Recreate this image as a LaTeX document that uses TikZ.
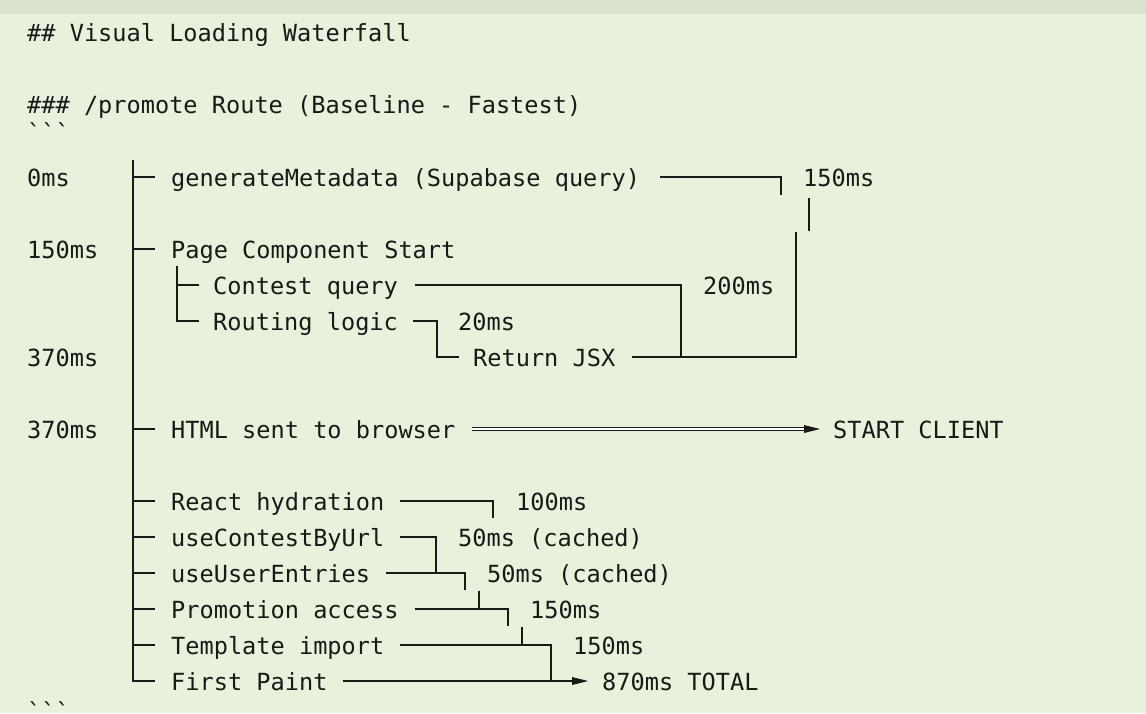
\documentclass[tikz,border=0pt]{standalone}
\usepackage{fontspec}
\setmainfont{DejaVu Sans Mono}[Ligatures=TeXOff]
\begin{document}
\begin{tikzpicture}[x=1pt,y=-1pt,
 t/.style={anchor=base west,inner sep=0pt,font=\fontsize{23.6}{26}\selectfont,text=black!90},
 ln/.style={line width=1.6pt,black!90}]
\definecolor{bg}{HTML}{E7F1DB}
\fill[bg] (0,0) rectangle (1146,713);
\fill[black!6!bg] (0,0) rectangle (1146,14);
\useasboundingbox (0,0) rectangle (1146,713);
\node[t] (h1) at (27,41) {\#\# Visual Loading Waterfall};
\node[t] (h2) at (27,113) {\#\#\# /promote Route (Baseline - Fastest)};
\node[t] (q1) at (27,141) {\symbol{96}\symbol{96}\symbol{96}};
\node[t] (q2) at (27,720) {\symbol{96}\symbol{96}\symbol{96}};
% time labels
\node[t] at (27,186) {0ms};
\node[t] at (27,258) {150ms};
\node[t] at (27,366) {370ms};
\node[t] at (27,438) {370ms};
% main trunk
\draw[ln] (133,160) -- (133,681) -- (155,681);
\foreach \y in {177,249,429,501,537,573,609,645} \draw[ln] (133,\y) -- (155,\y);
% texts
\node[t] (gm) at (171,186) {generateMetadata (Supabase query)};
\node[t] at (803,186) {150ms};
\node[t] (pc) at (171,258) {Page Component Start};
\node[t] (cq) at (213,294) {Contest query};
\node[t] at (703,294) {200ms};
\node[t] (rl) at (213,330) {Routing logic};
\node[t] at (458,330) {20ms};
\node[t] (rj) at (473,366) {Return JSX};
\node[t] (html) at (171,438) {HTML sent to browser};
\node[t] (sc) at (833,438) {START CLIENT};
\node[t] at (171,510) {React hydration};
\node[t] at (516,510) {100ms};
\node[t] at (171,546) {useContestByUrl};
\node[t] at (458,546) {50ms (cached)};
\node[t] at (171,582) {useUserEntries};
\node[t] at (487,582) {50ms (cached)};
\node[t] at (171,618) {Promotion access};
\node[t] at (530,618) {150ms};
\node[t] at (171,654) {Template import};
\node[t] at (573,654) {150ms};
\node[t] at (171,690) {First Paint};
\node[t] at (602,690) {870ms TOTAL};
% server connectors
\draw[ln] (660,177) -- (781,177) -- (781,195);
\draw[ln] (809,198) -- (809,231);
\draw[ln] (177,266) -- (177,321) -- (199,321);
\draw[ln] (177,285) -- (199,285);
\draw[ln] (415,285) -- (681,285) -- (681,357);
\draw[ln] (413,321) -- (437,321) -- (437,357) -- (459,357);
\draw[ln] (632,357) -- (796,357) -- (796,232);
% html
\draw[line width=1pt,double distance=2.5pt,black!90] (472,429) -- (806,429);
\fill[black!90] (820,429) -- (804,425) -- (804,433) -- cycle;
% client connectors
\draw[ln] (400,501) -- (493,501) -- (493,518);
\draw[ln] (400,537) -- (436,537) -- (436,573);
\draw[ln] (386,573) -- (465,573) -- (465,590);
\draw[ln] (479,591) -- (479,609);
\draw[ln] (415,609) -- (508,609) -- (508,626);
\draw[ln] (522,627) -- (522,645);
\draw[ln] (400,645) -- (551,645) -- (551,681);
\draw[ln] (343,681) -- (575,681);
\fill[black!90] (588,681) -- (572,677) -- (572,685) -- cycle;
\end{tikzpicture}
\end{document}
